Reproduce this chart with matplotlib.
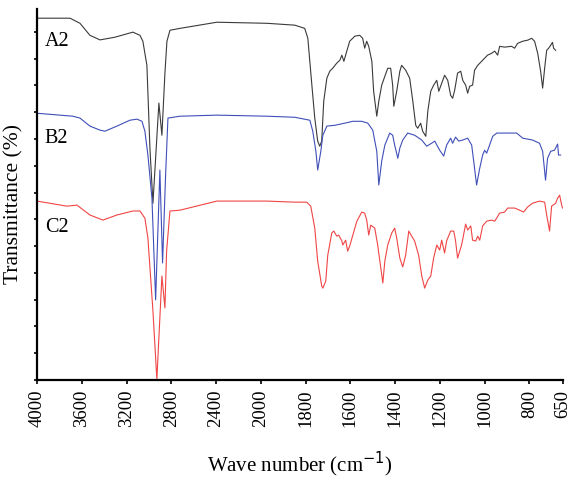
import numpy as np
import matplotlib
matplotlib.use("Agg")
import matplotlib.pyplot as plt

# FTIR spectra (wave number, offset transmittance)
wn_a2 = [4000, 3705, 3616, 3527, 3437, 3304, 3143, 3080, 3054, 3018, 2991, 2964, 2911, 2884,
         2857, 2839, 2812, 2723, 2393, 1973, 1848, 1804, 1790, 1772, 1759, 1746, 1737, 1728,
         1719, 1705, 1692, 1679, 1661, 1647, 1638, 1629, 1616, 1603, 1580, 1558, 1545, 1536,
         1527, 1518, 1504, 1496, 1482, 1473, 1460, 1446, 1433, 1420, 1411, 1406, 1393, 1379,
         1371, 1353, 1335, 1321, 1308, 1299, 1286, 1277, 1263, 1254, 1241, 1228, 1214, 1205,
         1192, 1179, 1165, 1152, 1143, 1134, 1121, 1107, 1098, 1085, 1076, 1067, 1054, 1045,
         1031, 1009, 987, 969, 955, 942, 933, 911, 880, 866, 853, 830, 808, 790, 777, 763,
         750, 741, 732, 723, 714, 705, 697, 692, 683]
t_a2 = [13.51, 13.51, 13.32, 12.87, 12.70, 12.80, 12.99, 12.87, 12.65, 11.75, 8.66, 6.60, 10.34, 9.14,
        11.46, 12.65, 13.06, 13.13, 13.36, 13.32, 13.25, 13.13, 12.76, 11.01, 9.78, 8.92, 8.73, 8.92,
        10.41, 11.27, 11.53, 11.64, 11.83, 11.94, 12.13, 11.90, 12.28, 12.65, 12.84, 12.87, 12.76, 12.39,
        12.65, 12.46, 11.90, 10.78, 9.85, 10.41, 11.01, 11.34, 11.64, 11.64, 11.01, 10.22, 10.78, 11.53,
        11.75, 11.57, 11.27, 10.41, 9.51, 9.40, 9.59, 9.29, 9.10, 10.04, 10.78, 11.01, 11.19, 10.78,
        11.08, 11.38, 11.19, 10.63, 10.52, 10.82, 11.46, 11.53, 11.19, 11.01, 10.71, 10.97, 11.01, 11.57,
        11.75, 11.94, 12.13, 12.20, 12.28, 12.13, 12.46, 12.43, 12.46, 12.39, 12.57, 12.65, 12.69, 12.76, 12.65, 12.20,
        11.53, 10.90, 11.64, 12.31, 12.39, 12.50, 12.61, 12.39, 12.31]

wn_b2 = [4000, 3679, 3616, 3527, 3437, 3393, 3286, 3170, 3107, 3062, 3036, 3009, 2973, 2940,
         2902, 2878, 2852, 2830, 2723, 2393, 1973, 1848, 1781, 1768, 1754, 1746, 1732, 1723,
         1705, 1670, 1625, 1589, 1549, 1522, 1500, 1482, 1473, 1460, 1446, 1424, 1411, 1402,
         1388, 1379, 1366, 1344, 1313, 1281, 1259, 1237, 1223, 1201, 1183, 1170, 1152, 1143,
         1130, 1116, 1098, 1076, 1058, 1049, 1036, 1022, 1009, 1000, 991, 978, 964, 946, 902,
         857, 830, 786, 755, 741, 728, 719, 705, 688, 674, 670, 661]
t_b2 = [9.96, 9.85, 9.78, 9.48, 9.33, 9.29, 9.48, 9.70, 9.74, 9.66, 9.29, 8.40, 6.79, 2.99,
        7.84, 4.37, 7.54, 9.78, 9.85, 9.89, 9.85, 9.81, 9.70, 9.29, 8.54, 7.84, 8.54, 9.14,
        9.48, 9.51, 9.59, 9.66, 9.66, 9.59, 9.33, 8.54, 7.28, 8.17, 8.77, 9.22, 9.14, 8.77,
        8.28, 8.66, 8.96, 9.22, 9.14, 8.96, 8.73, 8.84, 8.92, 8.58, 8.36, 8.77, 9.03, 8.84,
        9.07, 8.92, 8.96, 9.03, 8.77, 8.17, 7.28, 7.91, 8.40, 8.58, 8.47, 8.77, 9.10, 9.22, 9.22,
        9.22, 9.03, 8.96, 8.84, 8.54, 7.46, 8.28, 8.54, 8.58, 8.81, 8.40, 8.40]

wn_c2 = [4000, 3732, 3643, 3527, 3411, 3286, 3143, 3080, 3036, 3009, 2964, 2929, 2884, 2857,
         2842, 2812, 2723, 2393, 1973, 1848, 1795, 1777, 1759, 1746, 1728, 1723, 1710, 1701,
         1683, 1674, 1661, 1652, 1638, 1634, 1621, 1612, 1603, 1589, 1571, 1549, 1536, 1527,
         1518, 1509, 1491, 1478, 1464, 1455, 1446, 1433, 1415, 1402, 1393, 1379, 1366, 1353,
         1339, 1326, 1313, 1295, 1281, 1268, 1254, 1241, 1228, 1214, 1201, 1192, 1179, 1170,
         1152, 1138, 1130, 1121, 1103, 1085, 1076, 1062, 1054, 1040, 1031, 1022, 1009, 991,
         969, 955, 933, 911, 897, 866, 844, 826, 808, 786, 755, 732, 723, 710, 701, 683, 674,
         665, 656, 652]
t_c2 = [6.68, 6.49, 6.53, 6.16, 5.97, 6.16, 6.31, 6.31, 6.04, 5.30, 2.57, 0.02, 3.88, 2.69,
        4.81, 6.31, 6.34, 6.68, 6.68, 6.64, 6.64, 6.49, 5.67, 4.44, 3.51, 3.43, 3.69, 4.66,
        5.49, 5.56, 5.37, 5.41, 5.19, 5.04, 5.22, 4.81, 5.00, 5.41, 5.93, 6.27, 6.23, 5.97,
        5.41, 5.78, 5.67, 5.04, 4.18, 3.62, 4.44, 5.04, 5.49, 5.67, 5.30, 4.55, 4.22, 4.66,
        5.56, 5.37, 5.19, 4.66, 3.88, 3.43, 3.73, 3.88, 4.55, 5.04, 4.85, 5.22, 4.74, 5.19,
        5.56, 5.56, 5.19, 4.55, 5.04, 5.82, 5.60, 5.75, 5.22, 5.19, 5.37, 5.22, 5.75, 5.93,
        5.97, 5.93, 6.23, 6.27, 6.42, 6.42, 6.34, 6.27, 6.46, 6.60, 6.68, 6.64, 6.16, 5.56, 6.49, 6.60, 6.79,
        6.90, 6.53, 6.42]

x_ticks = [4000, 3600, 3200, 2800, 2400, 2000, 1800, 1600, 1400, 1200, 1000, 800, 650]


# split wave-number axis: 4000-2000 compressed by 2
def fwd(x):
    x = np.asarray(x, dtype=float)
    return np.where(x >= 2000, 1000 + (x - 2000) / 2, x - 1000)


def inv(u):
    u = np.asarray(u, dtype=float)
    return np.where(u >= 1000, 2000 + (u - 1000) * 2, u + 1000)


plt.rcParams['font.family'] = ['Liberation Serif', 'DejaVu Serif']

fig = plt.figure(figsize=(5.71, 4.81), dpi=100)
ax = fig.add_axes([0.0648, 0.208, 0.9212, 0.771])
ax.set_xscale('function', functions=(fwd, inv))

ax.plot(wn_a2, t_a2, color='#3a3a3a', lw=0.8)
ax.plot(wn_b2, t_b2, color='#3f4fb8', lw=0.8)
ax.plot(wn_c2, t_c2, color='#f04545', lw=0.8)

ax.text(0.015, 0.916, 'A2', transform=ax.transAxes, fontsize=14.5, va='center')
ax.text(0.015, 0.655, 'B2', transform=ax.transAxes, fontsize=14.5, va='center')
ax.text(0.015, 0.415, 'C2', transform=ax.transAxes, fontsize=14.5, va='center')

ax.set_xlim(4000, 650)
ax.set_ylim(0, 13.85)
ax.set_xticks(x_ticks)
ax.set_xticklabels([str(t) for t in x_ticks], rotation=90, fontsize=13.5)
ax.set_yticks(np.arange(0, 14))
ax.set_yticklabels([])
ax.tick_params(axis='x', direction='out', length=3, width=1.2)
ax.tick_params(axis='y', direction='out', length=2.5, width=1.2)
ax.minorticks_off()

for s in ['top', 'right']:
    ax.spines[s].set_visible(False)
for s in ['left', 'bottom']:
    ax.spines[s].set_linewidth(1.6)

ax.set_xlabel('Wave number (cm$^{-1}$)', fontsize=15, labelpad=16)
ax.set_ylabel('Transmittance (%)', fontsize=15.5)
ax.yaxis.set_label_coords(-0.025, 0.477)

fig.savefig('out.png', dpi=100)
